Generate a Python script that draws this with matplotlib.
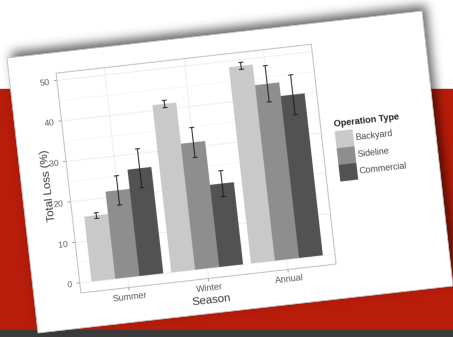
import numpy as np
import matplotlib
matplotlib.use("Agg")
import matplotlib.pyplot as plt
from matplotlib.figure import Figure
from matplotlib.backends.backend_agg import FigureCanvasAgg
from matplotlib.transforms import Affine2D
from matplotlib.patches import Rectangle, Polygon
from matplotlib.path import Path

# ---- data -------------------------------------------------------------
seasons = ["Summer", "Winter", "Annual"]
operation_types = ["Backyard", "Sideline", "Commercial"]
backyard = [16.0, 41.3, 48.5]
backyard_se = [0.7, 0.9, 0.9]
sideline = [21.5, 31.1, 43.4]
sideline_se = [3.6, 3.7, 4.5]
commercial = [26.3, 20.3, 40.0]
commercial_se = [4.8, 3.2, 4.9]
fill_colors = ["#c9c9c9", "#8e8e8e", "#525252"]
y_ticks = [0, 10, 20, 30, 40, 50]

plt.rcParams["font.family"] = ["Liberation Sans", "DejaVu Sans"]

# ---- the printed chart, drawn on its own card ------------------------
CARD_W, CARD_H = 418, 276
SS = 3
card = Figure(figsize=(CARD_W / 100, CARD_H / 100), dpi=100 * SS, facecolor="white")
FigureCanvasAgg(card)


def frac(x, y):
    return x / CARD_W, 1 - y / CARD_H


P_L, P_R, P_T, P_B = 47, 304, 20.5, 241
ax = card.add_axes([P_L / CARD_W, 1 - P_B / CARD_H,
                    (P_R - P_L) / CARD_W, (P_B - P_T) / CARD_H])
ax.set_facecolor("white")

series = [backyard, sideline, commercial]
errors = [backyard_se, sideline_se, commercial_se]
x = np.arange(1, len(seasons) + 1)
bw = 0.3
for i, (vals, errs, col) in enumerate(zip(series, errors, fill_colors)):
    xs = x + (i - 1) * bw
    ax.bar(xs, vals, width=bw, color=col, linewidth=0, zorder=2)
    ax.errorbar(xs, vals, yerr=errs, fmt="none", ecolor="#1e1e1e",
                elinewidth=0.7, capsize=1.8, capthick=0.7, zorder=3)

top = max(v + e for vals, errs in zip(series, errors) for v, e in zip(vals, errs))
ax.set_ylim(-0.05 * top, 1.05 * top)
ax.set_xlim(0.4, 3.6)
ax.set_xticks(x)
ax.set_xticklabels(seasons)
ax.set_yticks(y_ticks)
ax.set_yticks([t + 5 for t in y_ticks[:-1]], minor=True)
ax.set_axisbelow(True)
ax.grid(which="major", color="#ececec", linewidth=0.6)
ax.grid(which="minor", axis="y", color="#f2f2f2", linewidth=0.35)
ax.tick_params(which="minor", length=0)
ax.tick_params(axis="both", length=2.2, width=0.5, color="#7a7a7a",
               labelsize=6.2, labelcolor="#555555")
ax.tick_params(axis="y", pad=3.2)
ax.tick_params(axis="x", pad=1.6, labelsize=6.5)
for s in ax.spines.values():
    s.set_color("#b3b3b3")
    s.set_linewidth(0.6)

card.text(*frac(26.3, 131.5), "Total Loss (%)", rotation=90, ha="center",
          va="center", fontsize=8.2, color="#333333")
card.text(*frac(176, 263), "Season", ha="center", va="center",
          fontsize=8.2, color="#333333")

# legend
lg_x, lg_y0, key_w, key_h = 317.5, 109.8, 18, 16.7
card.text(*frac(lg_x, 104.8), "Operation Type", ha="left", va="baseline",
          fontsize=6.5, fontweight="bold", color="#222222")
for i, (name, col) in enumerate(zip(operation_types, fill_colors)):
    y0 = lg_y0 + i * key_h
    bx, by = frac(lg_x, y0 + key_h)
    card.add_artist(Rectangle((bx, by), key_w / CARD_W, key_h / CARD_H,
                              transform=card.transFigure, facecolor=col,
                              edgecolor="none"))
    card.text(*frac(lg_x + key_w + 2.5, y0 + key_h / 2), name, ha="left",
              va="center", fontsize=6.4, color="#444444")

card.canvas.draw()
card_img = np.asarray(card.canvas.buffer_rgba()).copy()

# ---- scene ------------------------------------------------------------
IMG_W, IMG_H = 453, 337
fig = plt.figure(figsize=(IMG_W / 100, IMG_H / 100), dpi=100)
bg = fig.add_axes([0, 0, 1, 1])
bg.axis("off")

bg.add_patch(Rectangle((0, 0), IMG_W, IMG_H, color="white", zorder=0))
bg.add_patch(Rectangle((0, 88.5), IMG_W, 241.5, color="#b81c0b", zorder=0))
bg.add_patch(Rectangle((0, 330), IMG_W, 7, color="#3b3b3b", zorder=0))

TL = np.array([7.0, 58.0])
TR = np.array([422.0, 11.0])
BL = np.array([38.0, 333.0])
BR = TR + BL - TL
u = (TR - TL) / CARD_W
v = (BL - TL) / CARD_H
M = np.array([[u[0], v[0], TL[0]],
              [u[1], v[1], TL[1]],
              [0.0, 0.0, 1.0]])
corners = np.array([TL, TR, BR, BL])

# soft drop shadow behind the card
yy, xx = np.mgrid[0:IMG_H, 0:IMG_W] + 0.5
shadow_path = Path(corners + np.array([4.0, -6.0]))
mask = shadow_path.contains_points(np.c_[xx.ravel(), yy.ravel()]).reshape(xx.shape).astype(float)
kx = np.arange(-16, 17)
kern = np.exp(-0.5 * (kx / 5.0) ** 2)
kern /= kern.sum()
mask = np.apply_along_axis(lambda r: np.convolve(r, kern, mode="same"), 1, mask)
mask = np.apply_along_axis(lambda c: np.convolve(c, kern, mode="same"), 0, mask)
shadow = np.zeros((IMG_H, IMG_W, 4))
shadow[..., 3] = 0.6 * mask
bg.imshow(shadow, extent=(0, IMG_W, IMG_H, 0), interpolation="bilinear",
          zorder=1, aspect="auto")

bg.imshow(card_img, extent=(0, CARD_W, CARD_H, 0),
          transform=Affine2D(M) + bg.transData,
          interpolation="antialiased", zorder=2, aspect="auto")
bg.add_patch(Polygon(corners, closed=True, fill=False, edgecolor="#c4c4c4",
                     linewidth=0.6, zorder=3))

bg.set_xlim(0, IMG_W)
bg.set_ylim(IMG_H, 0)
fig.savefig("out.png", dpi=100)
